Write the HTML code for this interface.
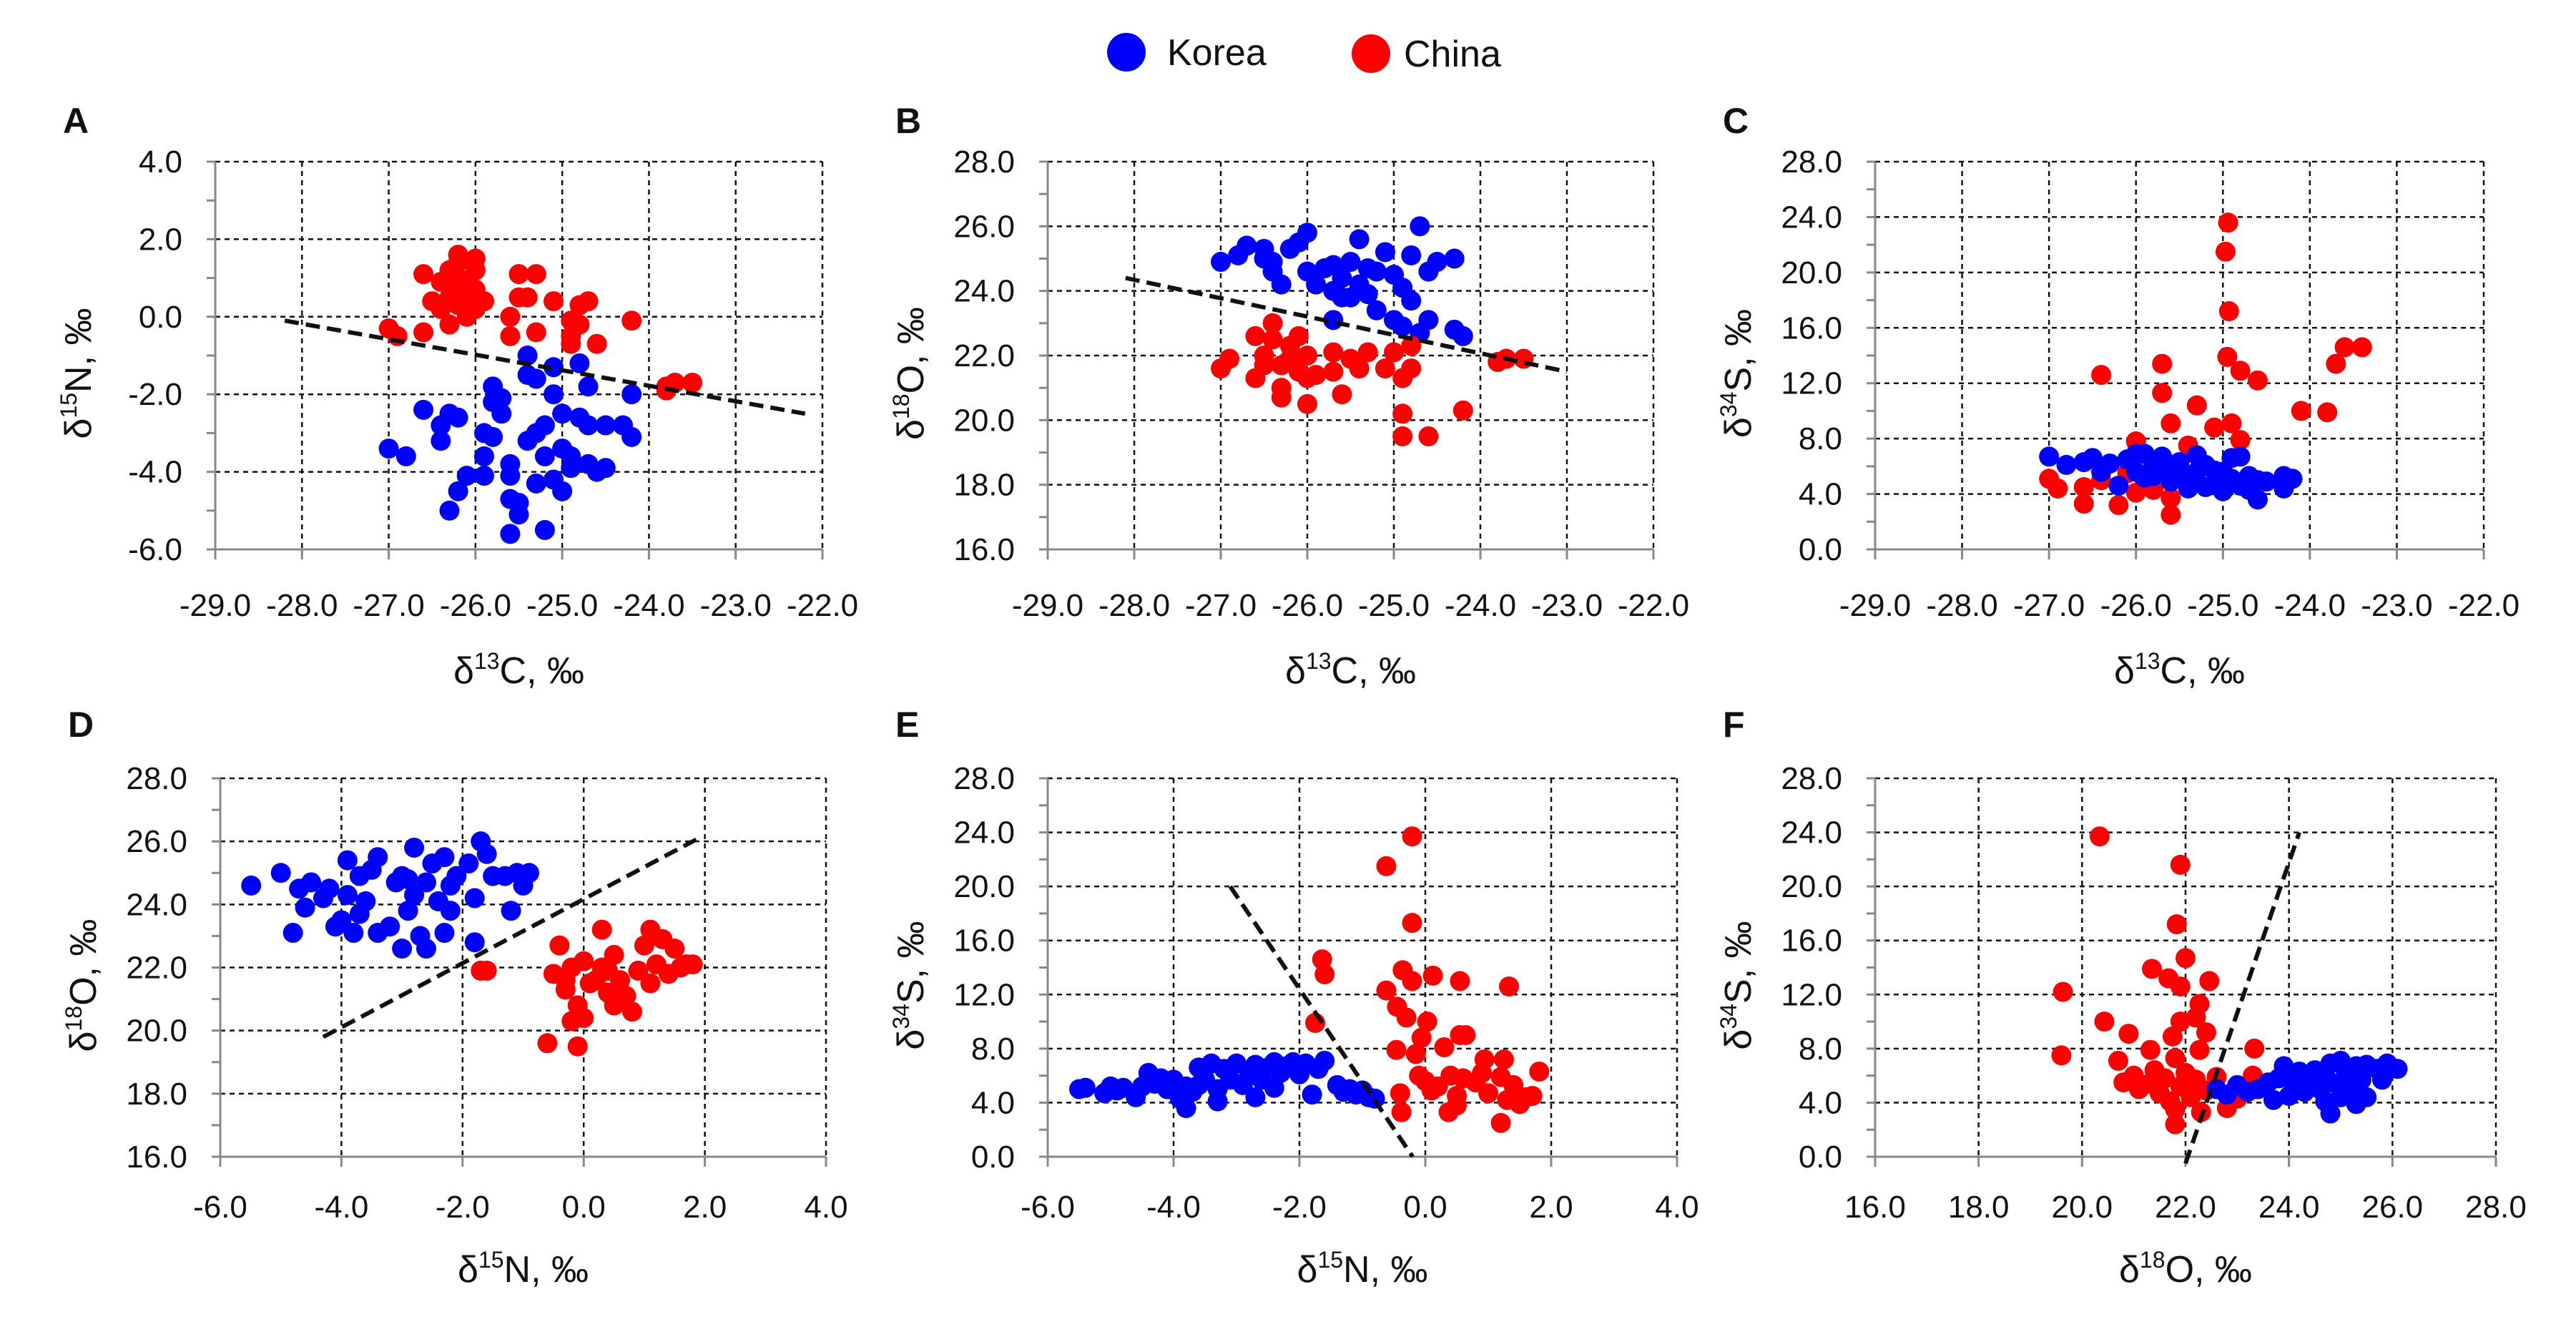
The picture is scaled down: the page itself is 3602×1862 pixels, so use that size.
<!DOCTYPE html>
<html><head><meta charset="utf-8"><style>
html,body{margin:0;padding:0;background:#fff;}
svg{display:block;font-family:"Liberation Sans","Noto Sans CJK KR",sans-serif;}
</style></head><body>
<svg id="fig" width="3602" height="1862" viewBox="0 0 3602 1862" xmlns="http://www.w3.org/2000/svg">
<rect width="3602" height="1862" fill="#fff"/>
<g>
  <circle cx="1575" cy="73" r="27" fill="#0000ff"/>
  <text x="1632" y="91" font-size="52" fill="#111">Korea</text>
  <circle cx="1917" cy="75" r="27" fill="#ff0000"/>
  <text x="1963" y="93" font-size="52" fill="#111">China</text>
</g>
</svg>
<script>
// ---- Data ----
const aKorea = [[-27,-3.4],[-26.8,-3.6],[-26.6,-2.4],[-26.4,-2.8],[-26.4,-3.2],[-26.3,-2.5],[-26.2,-2.6],[-26.3,-5.0],[-26.2,-4.5],[-26.1,-4.1],[-25.9,-3.6],[-25.9,-3.0],[-25.8,-3.1],[-25.8,-1.8],[-25.7,-2.1],[-25.7,-2.5],[-25.9,-4.1],[-25.6,-4.1],[-25.6,-3.8],[-25.6,-4.7],[-25.6,-5.6],[-25.5,-5.1],[-25.5,-4.8],[-25.4,-3.2],[-25.4,-1.0],[-25.4,-1.5],[-25.3,-1.6],[-25.3,-4.3],[-25.2,-3.6],[-25.2,-2.8],[-25.2,-5.5],[-25.1,-1.3],[-25.1,-2.0],[-25.1,-4.2],[-25.0,-2.5],[-25.0,-3.4],[-25.0,-4.5],[-24.9,-3.9],[-24.9,-3.6],[-24.8,-1.2],[-24.8,-2.6],[-24.7,-1.8],[-24.7,-2.8],[-24.7,-3.8],[-24.6,-4.0],[-24.5,-2.8],[-24.5,-3.9],[-24.3,-2.8],[-24.2,-3.1],[-24.2,-2.0],[-25.8,-2.2],[-25.3,-3.0]];
const aChina = [[-27,-0.3],[-26.9,-0.5],[-26.6,1.1],[-26.6,-0.4],[-26.5,0.4],[-26.4,0.2],[-26.3,1.2],[-26.3,0.8],[-26.3,0.5],[-26.2,1.6],[-26.2,1.0],[-26.2,0.3],[-26.3,-0.2],[-26.1,0.9],[-26.1,0.6],[-26.0,1.5],[-26.0,1.2],[-26.0,0.7],[-26.1,0.0],[-25.9,0.4],[-26.4,0.9],[-26.2,1.4],[-26.0,0.2],[-25.6,0.0],[-25.6,-0.5],[-25.5,1.1],[-25.5,0.5],[-25.4,0.5],[-25.3,1.1],[-25.3,-0.4],[-25.1,0.4],[-24.9,-0.1],[-24.9,-0.5],[-24.9,-0.7],[-24.8,-0.2],[-24.8,0.3],[-24.7,0.4],[-24.6,-0.7],[-24.2,-0.1],[-23.8,-1.8],[-23.7,-1.7],[-23.5,-1.7],[-23.8,-1.9]];
const aLine = [[-28.2,-0.1],[-22.2,-2.5]];

const bKorea = [[-27.0,24.9],[-26.8,25.1],[-26.7,25.4],[-26.5,25.3],[-26.4,24.9],[-26.3,24.2],[-26.4,24.6],[-26.2,25.3],[-26.1,25.5],[-26.0,25.8],[-26.0,24.6],[-25.8,24.7],[-25.7,24.0],[-25.7,24.8],[-25.6,23.8],[-25.6,24.4],[-25.7,23.1],[-25.5,24.9],[-25.4,24.2],[-25.4,25.6],[-25.3,24.7],[-25.3,23.9],[-25.2,24.6],[-25.1,25.2],[-25.2,23.4],[-25.0,24.5],[-25.0,23.1],[-24.9,24.1],[-24.8,23.7],[-24.8,25.1],[-24.7,26.0],[-24.7,22.7],[-24.6,23.1],[-24.6,24.6],[-24.5,24.9],[-24.3,25.0],[-24.3,22.8],[-24.2,22.6],[-25.9,24.2],[-25.5,23.8],[-24.9,22.9],[-26.5,25.0]];
const bChina = [[-27,21.6],[-26.9,21.9],[-26.6,22.6],[-26.6,21.3],[-26.5,22.0],[-26.4,22.5],[-26.4,23.0],[-26.3,21.7],[-26.3,20.7],[-26.3,21.0],[-26.2,22.3],[-26.1,21.5],[-26.1,22.6],[-26.0,22.0],[-26.0,21.3],[-26.0,20.5],[-25.9,21.4],[-25.7,22.1],[-25.7,21.5],[-25.6,20.8],[-25.5,21.9],[-25.4,21.6],[-25.3,22.1],[-25.1,21.6],[-25.0,22.1],[-24.9,21.3],[-24.9,20.2],[-24.9,19.5],[-24.8,21.6],[-24.8,22.3],[-24.6,19.5],[-24.2,20.3],[-23.8,21.8],[-23.7,21.9],[-23.5,21.9],[-26.2,21.9],[-26.5,21.7]];
const bLine = [[-28.1,24.4],[-23.0,21.5]];

const cKorea = [[-27.0,6.7],[-26.8,6.1],[-26.6,6.3],[-26.5,6.6],[-26.4,5.6],[-26.3,6.2],[-26.2,4.6],[-26.1,6.5],[-26.0,5.6],[-25.9,6.9],[-25.8,6.2],[-25.8,5.3],[-25.7,6.7],[-25.6,5.8],[-25.6,4.9],[-25.5,6.3],[-25.4,5.1],[-25.4,4.4],[-25.3,6.8],[-25.3,5.6],[-25.2,6.1],[-25.1,4.8],[-25.1,5.7],[-25.0,4.2],[-24.9,5.1],[-24.9,6.6],[-24.8,6.7],[-24.8,4.6],[-24.7,4.3],[-24.6,5.0],[-24.6,3.6],[-24.5,4.9],[-24.3,4.4],[-24.2,5.1],[-24.3,5.3],[-25.9,5.2],[-25.2,4.5],[-26.0,6.9],[-25.5,5.4],[-24.7,5.3],[-25.0,5.6]];
const cChina = [[-24.94,23.6],[-24.97,21.5],[-24.93,17.2],[-24.95,13.9],[-24.8,12.9],[-24.6,12.2],[-26.4,12.6],[-25.7,13.4],[-25.7,11.3],[-25.3,10.4],[-25.6,9.1],[-25.1,8.8],[-24.9,9.1],[-24.8,7.9],[-24.1,10.0],[-23.8,9.9],[-23.7,13.4],[-23.6,14.6],[-23.4,14.6],[-26.0,7.8],[-27.0,5.1],[-26.9,4.4],[-26.6,3.3],[-26.6,4.5],[-26.2,3.2],[-26.0,4.1],[-25.6,2.5],[-25.6,3.7],[-25.4,7.5],[-26.4,5.0],[-26.1,5.5],[-25.8,4.3],[-25.5,6.0]];

const dKorea = [[-5.49,24.6],[-5.0,25.0],[-4.8,23.1],[-4.7,24.5],[-4.6,23.9],[-4.5,24.7],[-4.3,24.2],[-4.1,23.3],[-4.0,23.5],[-3.9,25.4],[-3.9,24.3],[-3.8,23.1],[-3.7,24.9],[-3.7,23.7],[-3.6,24.1],[-3.5,25.1],[-3.4,23.1],[-3.4,25.5],[-3.2,23.3],[-3.1,24.7],[-3.0,22.6],[-2.9,23.8],[-2.9,24.8],[-2.8,25.8],[-2.8,24.3],[-2.7,23.0],[-2.6,22.6],[-2.6,24.7],[-2.5,25.3],[-2.4,24.1],[-2.3,23.1],[-2.3,25.5],[-2.2,24.6],[-2.2,23.8],[-2.1,24.9],[-1.9,25.3],[-1.8,24.2],[-1.8,22.8],[-1.7,26.0],[-1.6,25.6],[-1.5,24.9],[-1.3,24.9],[-1.2,23.8],[-1.1,25.0],[-1.0,24.6],[-0.9,25.0],[-3.0,24.9],[-4.2,24.5]];
const dChina = [[-1.7,21.9],[-1.6,21.9],[-0.6,19.6],[-0.5,21.8],[-0.4,22.7],[-0.3,21.3],[-0.2,22.0],[-0.2,20.3],[-0.1,20.8],[-0.1,19.5],[0.0,22.2],[0.0,20.4],[0.1,21.5],[0.3,23.2],[0.3,22.0],[0.4,21.2],[0.5,22.4],[0.5,20.8],[0.6,21.6],[0.7,21.1],[0.8,20.6],[0.9,21.9],[1.0,22.7],[1.1,21.5],[1.1,23.2],[1.2,22.1],[1.3,22.9],[1.4,21.8],[1.5,22.6],[1.6,22.0],[1.7,22.1],[1.8,22.1],[-0.3,21.6],[0.4,21.9],[0.2,21.6]];
const dLine = [[-4.3,19.8],[1.9,26.1]];

const eKorea = [[-5.5,5.0],[-5.4,5.1],[-5.1,4.7],[-5.0,5.2],[-4.9,4.9],[-4.8,5.1],[-4.6,4.4],[-4.5,5.2],[-4.4,6.2],[-4.3,5.4],[-4.1,5.0],[-4.0,5.7],[-3.9,4.3],[-3.8,3.6],[-3.8,5.2],[-3.7,4.8],[-3.6,6.6],[-3.5,5.7],[-3.4,6.9],[-3.3,4.1],[-3.3,5.0],[-3.2,6.5],[-3.1,5.7],[-3.0,6.9],[-2.9,5.3],[-2.8,6.1],[-2.7,4.4],[-2.7,6.8],[-2.6,5.7],[-2.5,6.6],[-2.4,5.1],[-2.4,7.0],[-2.3,6.2],[-2.2,6.7],[-2.1,7.0],[-2.0,6.1],[-1.9,6.9],[-1.8,4.6],[-1.7,6.5],[-1.6,7.1],[-1.4,5.3],[-1.3,4.8],[-1.2,5.0],[-1.1,4.6],[-0.9,4.4],[-0.8,4.3],[-1.0,4.9],[-3.6,5.3],[-4.2,5.8]];
const eChina = [[-0.21,23.7],[-0.62,21.5],[-0.21,17.3],[-1.64,14.6],[-1.6,13.5],[-1.75,9.9],[-0.62,12.3],[-0.36,13.8],[-0.21,13.0],[0.12,13.4],[0.55,13.0],[1.33,12.6],[-0.45,11.1],[-0.3,10.3],[0.03,10.0],[-0.06,8.8],[-0.15,7.6],[-0.46,7.9],[0.3,8.1],[0.55,9.0],[0.64,9.0],[0.94,7.2],[1.25,7.2],[1.81,6.3],[-0.4,4.7],[-0.38,3.3],[0.37,3.3],[1.2,2.5],[0.0,5.6],[0.2,5.2],[0.4,6.0],[0.5,4.5],[0.6,5.8],[0.8,5.5],[1.0,4.7],[1.2,5.9],[1.3,4.2],[1.4,5.3],[1.6,4.4],[1.7,4.5],[0.1,4.9],[0.5,3.8],[0.9,6.2],[1.5,3.9],[-0.1,6.0]];
const eLine = [[-3.1,20.0],[-0.2,0.0]];

const fKorea = [[22.6,5.0],[22.8,4.6],[23.0,5.3],[23.2,4.8],[23.4,5.0],[23.6,5.5],[23.7,4.2],[23.8,5.8],[23.9,6.7],[24.0,4.5],[24.1,5.3],[24.2,6.3],[24.3,4.8],[24.4,5.9],[24.5,6.4],[24.6,5.0],[24.7,4.1],[24.7,6.0],[24.8,3.2],[24.8,6.9],[24.9,5.4],[25.0,7.1],[25.0,4.4],[25.1,6.2],[25.2,5.2],[25.3,3.9],[25.3,6.7],[25.4,5.7],[25.5,4.4],[25.5,6.8],[25.7,6.5],[25.8,5.7],[25.9,6.9],[26.1,6.5],[24.5,5.6],[24.0,6.1]];
const fChina = [[20.34,23.7],[21.9,21.6],[21.83,17.2],[22.0,14.7],[21.35,13.9],[21.67,13.2],[21.9,12.6],[22.46,13.0],[19.63,12.2],[20.43,10.0],[20.9,9.1],[19.6,7.5],[20.7,7.1],[21.32,7.9],[21.75,8.9],[22.27,11.3],[22.2,10.3],[22.4,9.2],[22.27,7.9],[23.33,8.0],[21.9,10.0],[21.8,2.4],[20.8,5.5],[21.0,6.0],[21.1,5.0],[21.3,5.4],[21.5,4.7],[21.6,5.8],[21.7,4.1],[21.8,3.5],[21.9,5.2],[22.0,6.2],[22.1,4.4],[22.2,5.7],[22.3,3.3],[22.4,4.9],[22.6,5.9],[22.8,3.6],[23.0,4.3],[23.3,6.0],[21.4,6.4],[21.8,7.3]];
const fLine = [[22.0,-0.5],[24.2,24.0]];

const xTicksC13 = [-29,-28,-27,-26,-25,-24,-23,-22];
const xTicksN15 = [-6,-4,-2,0,2,4];
const xTicksO18 = [16,18,20,22,24,26,28];
const yTicksN15 = [-6,-4,-2,0,2,4];
const yTicksO18 = [16,18,20,22,24,26,28];
const yTicksS34 = [0,4,8,12,16,20,24,28];

const NS = "http://www.w3.org/2000/svg";
const svg = document.getElementById('fig');
function mk(tag, attrs, parent){
  const e = document.createElementNS(NS, tag);
  for (const k in attrs) e.setAttribute(k, attrs[k]);
  parent.appendChild(e); return e;
}
const panels = [
  {id:'a',letter:'A',L:301,R:1150,T:226,B:768,xr:[-29,-22],yr:[-6,4],xt:xTicksC13,yt:yTicksN15,yMinor:1,k:aKorea,c:aChina,line:aLine,xlab:['13','C'],ylab:['15','N'],xo:78,xto:169},
  {id:'b',letter:'B',L:1465,R:2312,T:226,B:768,xr:[-29,-22],yr:[16,28],xt:xTicksC13,yt:yTicksO18,yMinor:1,k:bKorea,c:bChina,line:bLine,xlab:['13','C'],ylab:['18','O'],xo:78,xto:169},
  {id:'c',letter:'C',L:2622,R:3473,T:226,B:768,xr:[-29,-22],yr:[0,28],xt:xTicksC13,yt:yTicksS34,yMinor:2,k:cKorea,c:cChina,line:null,xlab:['13','C'],ylab:['34','S'],xo:78,xto:169},
  {id:'d',letter:'D',L:308,R:1155,T:1088,B:1617,xr:[-6,4],yr:[16,28],xt:xTicksN15,yt:yTicksO18,yMinor:1,k:dKorea,c:dChina,line:dLine,xlab:['15','N'],ylab:['18','O'],xo:70,xto:157},
  {id:'e',letter:'E',L:1465,R:2345,T:1088,B:1617,xr:[-6,4],yr:[0,28],xt:xTicksN15,yt:yTicksS34,yMinor:2,k:eKorea,c:eChina,line:eLine,xlab:['15','N'],ylab:['34','S'],xo:70,xto:157},
  {id:'f',letter:'F',L:2622,R:3490,T:1088,B:1617,xr:[16,28],yr:[0,28],xt:xTicksO18,yt:yTicksS34,yMinor:2,k:fKorea,c:fChina,line:fLine,xlab:['18','O'],ylab:['34','S'],xo:70,xto:157}
];
panels.forEach(p=>{
  const X = v => p.L + (v - p.xr[0]) / (p.xr[1]-p.xr[0]) * (p.R - p.L);
  const Y = v => p.B - (v - p.yr[0]) / (p.yr[1]-p.yr[0]) * (p.B - p.T);
  const g = mk('g', {}, svg);
  
  
  const lt = mk('text', {x:p.L-213, y:(p.T===226?186:1030), 'font-size':50, 'font-weight':'bold', fill:'#111'}, g);
  lt.textContent = p.letter;
  
  
  const grid = mk('g', {stroke:'#111','stroke-width':2.5,'stroke-dasharray':'7,6',fill:'none'}, g);
  
  
  p.xt.forEach((t,i)=>{ if(i>0) mk('line',{x1:X(t),x2:X(t),y1:p.T,y2:p.B},grid); });
  p.yt.forEach((t,i)=>{ if(i>0) mk('line',{x1:p.L,x2:p.R,y1:Y(t),y2:Y(t)},grid); });
  const ax = mk('g', {stroke:'#888','stroke-width':3,fill:'none'}, g);
  
  
  mk('line',{x1:p.L,x2:p.L,y1:p.T,y2:p.B},ax);
  mk('line',{x1:p.L-12,x2:p.R,y1:p.B,y2:p.B},ax);
  p.xt.forEach(t=>mk('line',{x1:X(t),x2:X(t),y1:p.B,y2:p.B+14},ax));
  for(let v=p.yr[0]; v<=p.yr[1]+1e-9; v+=p.yMinor) mk('line',{x1:p.L-12,x2:p.L,y1:Y(v),y2:Y(v)},ax);
  p.yt.forEach(t=>{
    const tx = mk('text',{x:p.L-46,y:Y(t)+15,'font-size':44,'text-anchor':'end',fill:'#111'},g);
    tx.textContent = t.toFixed(1);
    
    
  });
  p.xt.forEach(t=>{
    const tx = mk('text',{x:X(t),y:p.B+p.xo+15,'font-size':44,'text-anchor':'middle',fill:'#111'},g);
    tx.textContent = t.toFixed(1);
    
    
  });
  const xtl = mk('text',{x:(p.L+p.R)/2,y:p.B+p.xto+18,'font-size':52,'text-anchor':'middle',fill:'#111'},g);
  xtl.innerHTML = 'δ<tspan font-size="32" dy="-20">'+p.xlab[0]+'</tspan><tspan dy="20">'+p.xlab[1]+', ‰</tspan>';
  
  
  const cy = (p.T+p.B)/2 + 25, cx = p.L - 192;
  const ytl = mk('text',{x:cx,y:cy,'font-size':52,'text-anchor':'middle',fill:'#111',transform:'rotate(-90 '+cx+' '+cy+') translate(0 18)'},g);
  ytl.innerHTML = 'δ<tspan font-size="32" dy="-20">'+p.ylab[0]+'</tspan><tspan dy="20">'+p.ylab[1]+', ‰</tspan>';
  
  
  const gk = mk('g',{fill:'#0000ff'},g);
  
  
  const gc = mk('g',{fill:'#ff0000'},g);
  
  
  const drawPts = (arr, parent, nm) => arr.forEach(d=>{
    const c = mk('circle',{cx:X(d[0]),cy:Y(d[1]),r:14},parent);
    
    
  });
  drawPts(p.k, gk, 'korea-point');
  drawPts(p.c, gc, 'china-point');
  if (p.id==='c' || p.id==='f') { g.appendChild(gc); g.appendChild(gk); }
  if (p.line) {
    const ln = mk('line',{x1:X(p.line[0][0]),y1:Y(p.line[0][1]),x2:X(p.line[1][0]),y2:Y(p.line[1][1]),stroke:'#111','stroke-width':6,'stroke-dasharray':'20,10'},g);
    
    
  }
});
</script>
</body></html>
